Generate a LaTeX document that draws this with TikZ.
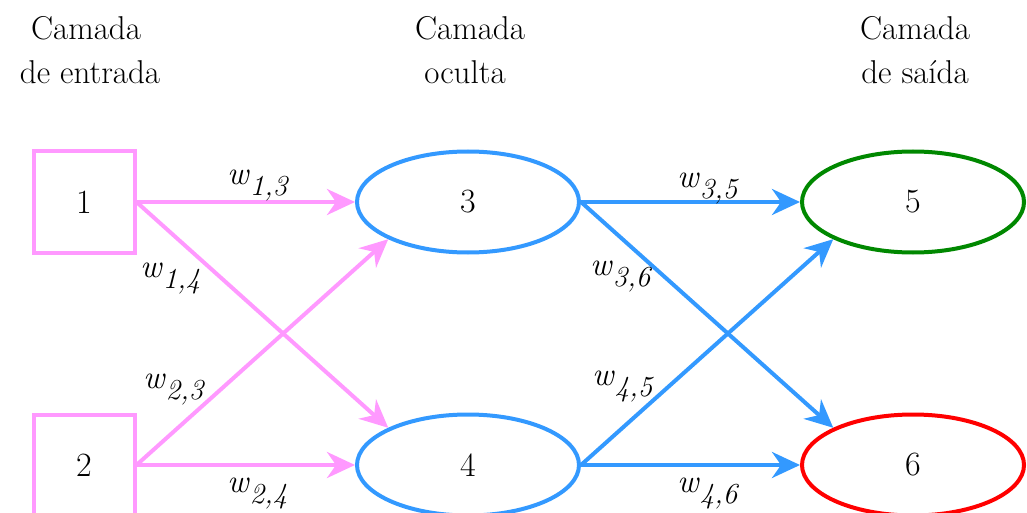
\documentclass[tikz,border=0pt]{standalone}
\usepackage{fontspec}
\usetikzlibrary{shapes.geometric,arrows.meta}
\definecolor{pinkc}{RGB}{255,153,255}
\definecolor{bluec}{RGB}{51,153,255}
\definecolor{greenc}{RGB}{0,136,0}
\definecolor{redc}{RGB}{255,0,0}
\newcommand\wlab[1]{\fontsize{33}{36}\selectfont\textit{w}\raisebox{-11pt}{\fontsize{29}{30}\selectfont\textit{#1}}}
\begin{document}
\begin{tikzpicture}[x=1pt,y=-1pt,
  title/.style={anchor=base,inner sep=0pt,font=\fontsize{33}{42}\selectfont},
  inbox/.style={draw=pinkc,line width=4pt,rectangle,minimum width=101pt,minimum height=101pt,inner sep=0pt,font=\fontsize{34}{42}\selectfont},
  neuron/.style={ellipse,line width=4pt,minimum width=222pt,minimum height=101pt,inner sep=0pt,font=\fontsize{34}{42}\selectfont},
  parr/.style={draw=pinkc,line width=4pt,-{Stealth[length=28pt,width=26pt,inset=9pt]}},
  barr/.style={draw=bluec,line width=4pt,-{Stealth[length=28pt,width=26pt,inset=9pt]}},
  wl/.style={anchor=base west,inner sep=0pt}]
\useasboundingbox (0,0) rectangle (1027,513);
% titles
\node[title] (t1a) at (86,40) {Camada};
\node[title] (t1b) at (90,84) {de entrada};
\node[title] (t2a) at (470,40) {Camada};
\node[title] (t2b) at (465,84) {oculta};
\node[title] (t3a) at (915,40) {Camada};
\node[title] (t3b) at (915,84) {de saída};
% nodes
\node[inbox] (b1) at (84,202) {1};
\node[inbox] (b2) at (84,465) {2};
\node[neuron,draw=bluec] (e3) at (468,202) {3};
\node[neuron,draw=bluec] (e4) at (468,465) {4};
\node[neuron,draw=greenc] (e5) at (913,202) {5};
\node[neuron,draw=redc] (e6) at (913,465) {6};
% edges
\draw[parr] (b1.east) -- (e3.west);
\draw[parr] (b1.east) -- (e4.155);
\draw[parr] (b2.east) -- (e3.205);
\draw[parr] (b2.east) -- (e4.west);
\draw[barr] (e3.east) -- (e5.west);
\draw[barr] (e3.east) -- (e6.155);
\draw[barr] (e4.east) -- (e5.205);
\draw[barr] (e4.east) -- (e6.west);
% labels
\node[wl] (l13) at (227,185) {\wlab{1,3}};
\node[wl] (l14) at (140,277) {\wlab{1,4}};
\node[wl] (l23) at (143,388) {\wlab{2,3}};
\node[wl] (l24) at (227,492) {\wlab{2,4}};
\node[wl] (l35) at (677,187) {\wlab{3,5}};
\node[wl] (l36) at (590,275) {\wlab{3,6}};
\node[wl] (l45) at (592,385) {\wlab{4,5}};
\node[wl] (l46) at (677,492) {\wlab{4,6}};
\end{tikzpicture}
\end{document}
